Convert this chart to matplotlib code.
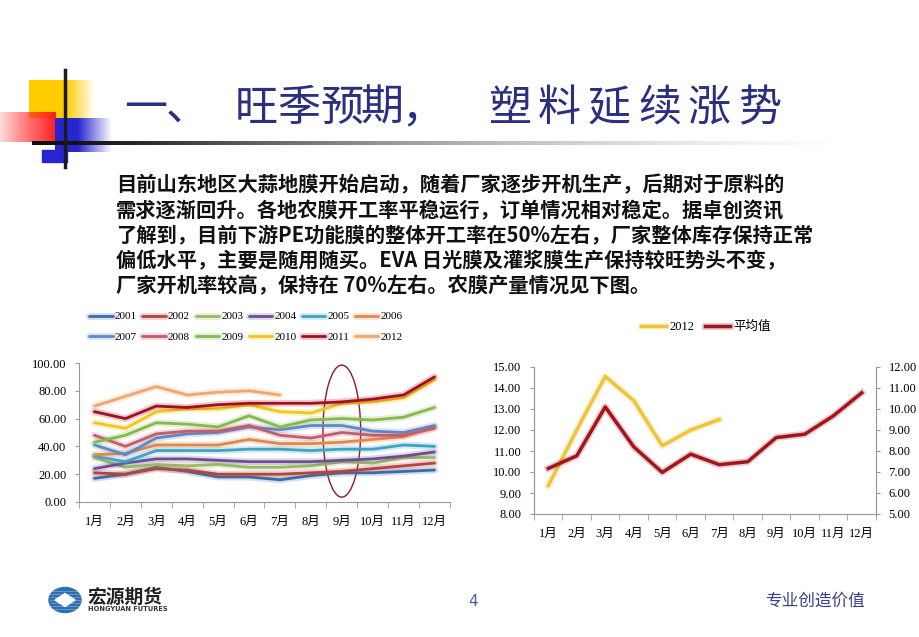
import numpy as np
import matplotlib.pyplot as plt
import matplotlib.patheffects as pe
from matplotlib.patches import Ellipse, Polygon

W, H = 920, 637
CJK = 'Noto Sans CJK SC'
SERIF = ['Liberation Serif', 'Noto Sans CJK SC']

months = [f'{i}月' for i in range(1, 13)]
years = [str(y) for y in range(2001, 2013)]

# left chart: monthly values per year
s2001 = [17, 20, 25, 22, 18, 18, 16, 19, 21, 21, 22, 23]
s2002 = [21, 20, 24, 23, 20, 20, 20, 21, 22, 24, 26, 28]
s2003 = [32, 25, 27, 26, 27, 25, 25, 26, 29, 28, 32, 32]
s2004 = [24, 28, 31, 31, 30, 29, 29, 29, 30, 31, 33, 36]
s2005 = [33, 29, 37, 37, 37, 38, 38, 37, 38, 38, 41, 40]
s2006 = [34, 35, 41, 41, 41, 45, 42, 42, 43, 45, 47, 54]
s2007 = [41, 34, 46, 49, 50, 54, 52, 55, 55, 51, 50, 55]
s2008 = [48, 40, 49, 51, 51, 55, 48, 46, 50, 48, 48, 53]
s2009 = [43, 48, 57, 56, 54, 62, 54, 59, 60, 59, 61, 68]
s2010 = [57, 53, 65, 67, 67, 70, 65, 64, 71, 72, 75, 88]
s2011 = [65, 60, 69, 68, 70, 71, 71, 71, 72, 74, 77, 90]
s2012 = [69, 76, 83, 77, 79, 80, 77]
series = [s2001, s2002, s2003, s2004, s2005, s2006,
          s2007, s2008, s2009, s2010, s2011, s2012]
colors = ['#3A6BA5', '#B4443F', '#9BB865', '#6E4E92', '#3FA3C4', '#E0874A',
          '#5B8AC8', '#C25D6A', '#86B84E', '#F2C51C', '#A01020', '#EFA76A']

# right chart
r2012 = [9.35, 12.0, 14.55, 13.4, 11.25, 12.0, 12.5]
ravg = [7.17, 7.77, 10.1, 8.2, 6.98, 7.85, 7.35, 7.49, 8.64, 8.8, 9.67, 10.77]

body = [
    '目前山东地区大蒜地膜开始启动，随着厂家逐步开机生产，后期对于原料的',
    '需求逐渐回升。各地农膜开工率平稳运行，订单情况相对稳定。据卓创资讯',
    '了解到，目前下游PE功能膜的整体开工率在50%左右，厂家整体库存保持正常',
    '偏低水平，主要是随用随买。EVA 日光膜及灌浆膜生产保持较旺势头不变，',
    '厂家开机率较高，保持在 70%左右。农膜产量情况见下图。',
]
title_chars = list('一、旺季预期，塑料延续涨势')
title_x = [124, 166, 235, 277, 320, 360, 401, 488, 538, 588, 638, 688, 738]


def rect(x0, y0, x1, y1):
    return [x0 / W, 1 - y1 / H, (x1 - x0) / W, (y1 - y0) / H]


def grad_rect(ax, x0, x1, y0, y1, rgb, xs, alphas, z=1, shade=None):
    n = 300
    xx = np.linspace(x0, x1, n)
    img = np.zeros((1, n, 4))
    img[0, :, :3] = rgb
    if shade is not None:
        g = np.interp(xx, shade[0], shade[1])
        img[0, :, :3] = np.stack([g, g, g], axis=1)
    img[0, :, 3] = np.interp(xx, xs, alphas)
    ax.imshow(img, extent=(x0, x1, y1, y0), aspect='auto',
              interpolation='bilinear', zorder=z)


fig = plt.figure(figsize=(W / 100, H / 100), dpi=100)
fig.patch.set_facecolor('white')

bg = fig.add_axes([0, 0, 1, 1])
bg.set_zorder(0)
bg.axis('off')

# decoration top-left
grad_rect(bg, 29, 95, 80, 118, (1.0, 0.8, 0.0), [29, 66, 95], [1, 1, 0], z=1)
grad_rect(bg, 0, 56, 112, 142, (1.0, 0.12, 0.12), [0, 20, 56], [0.15, 0.5, 1], z=2)
grad_rect(bg, 55, 112, 118, 152, (0.15, 0.15, 0.82), [55, 78, 112], [1, 1, 0], z=3)
bg.add_patch(plt.Rectangle((42, 150), 25, 12, color=(0.15, 0.15, 0.82), zorder=3))
grad_rect(bg, 32, 850, 141.5, 145, (0, 0, 0), [32, 420, 850], [1, 0.8, 0], z=4,
          shade=([32, 130, 420, 850], [0.05, 0.1, 0.55, 0.8]))
bg.plot([65, 65], [70, 167], color='#1a1a1a', lw=2.5, zorder=5)

for ch, x in zip(title_chars, title_x):
    bg.text(x, 109, ch, fontsize=31, family=CJK, color='#2B2F7F',
            ha='left', va='center', zorder=6)

for i, line in enumerate(body):
    bg.text(116, 185 + i * 25.3, line, fontsize=14.6, family=CJK,
            fontweight='bold', color='#111111', ha='left', va='center')

# footer
bg.add_patch(Ellipse((65, 600), 32, 25, color='#2E6FB0', zorder=3))
for yy in range(591, 610, 3):
    bg.plot([50, 80], [yy, yy], color='white', lw=0.4, alpha=0.5, zorder=4)
bg.add_patch(Polygon([(55, 600), (65, 593.5), (75, 600), (65, 606.5)],
                     closed=True, color='white', zorder=5))
bg.text(87, 597, '宏源期货', fontsize=13.5, family=CJK, fontweight='bold',
        color='#222222', ha='left', va='center')
bg.text(88, 609, 'HONGYUAN FUTURES', fontsize=4.8, family='DejaVu Sans',
        fontweight='bold', color='#333333', ha='left', va='center')
bg.text(473, 601, '4', fontsize=11, family='DejaVu Sans', color='#4A5A9A',
        ha='center', va='center')
bg.text(765, 601, '专业创造价值', fontsize=12, family=CJK,
        color='#3A3F8A', ha='left', va='center')

bg.set_xlim(0, W)
bg.set_ylim(H, 0)

x = np.arange(12)
glow = lambda c: [pe.Stroke(linewidth=5, foreground=c, alpha=0.22), pe.Normal()]

# left chart
ax = fig.add_axes(rect(79, 363, 450, 502))
ax.set_zorder(2)
ax.patch.set_alpha(0)
handles = []
for ys, c, lab in zip(series, colors, years):
    h, = ax.plot(x[:len(ys)], ys, color=c, lw=2, label=lab,
                 path_effects=glow(c), solid_capstyle='round')
    handles.append(h)
ax.add_patch(Ellipse((8.0, 51), 1.22, 95, fill=False, edgecolor='#8B1A2A', lw=1))
ax.set_xlim(-0.5, 11.5)
ax.set_ylim(0, 100)
ax.set_yticks(np.arange(0, 101, 20))
ax.set_yticklabels([f'{v:.2f}' for v in np.arange(0, 101, 20)])
ax.set_xticks(x)
ax.set_xticklabels(months)
ax.set_xticks(np.arange(-0.5, 12, 1), minor=True)
ax.tick_params(axis='x', which='major', length=0, pad=10)
ax.tick_params(axis='x', which='minor', length=4, color='#999999')
ax.tick_params(axis='y', length=3, color='#999999', pad=6)
for sp in ['top', 'right']:
    ax.spines[sp].set_visible(False)
for sp in ['left', 'bottom']:
    ax.spines[sp].set_color('#999999')
for lb in ax.get_xticklabels() + ax.get_yticklabels():
    lb.set_family(SERIF)
    lb.set_fontsize(9)

order = [i + j * 6 for i in range(6) for j in range(2)]
fig.legend([handles[k] for k in order], [years[k] for k in order], ncol=6,
           loc='center', bbox_to_anchor=(246 / W, 1 - 327 / H), frameon=False,
           prop={'family': SERIF, 'size': 8}, handlelength=2.1,
           handletextpad=0.2, columnspacing=0.5, labelspacing=1.0)

# right chart
ax2 = fig.add_axes(rect(534, 367, 876, 514))
ax2.set_zorder(2)
ax2.patch.set_alpha(0)
ax3 = ax2.twinx()
c12, cav = '#EFC43A', '#A0151E'
h1, = ax2.plot(x[:len(r2012)], r2012, color=c12, lw=2.5, path_effects=glow(c12))
h2, = ax3.plot(x, ravg, color=cav, lw=2.5, path_effects=glow(cav))
ax2.set_xlim(-0.5, 11.5)
ax2.set_ylim(8, 15)
ax3.set_ylim(5, 12)
ax2.set_yticks(np.arange(8, 15.1, 1))
ax2.set_yticklabels([f'{v:.2f}' for v in np.arange(8, 15.1, 1)])
ax3.set_yticks(np.arange(5, 12.1, 1))
ax3.set_yticklabels([f'{v:.2f}' for v in np.arange(5, 12.1, 1)])
ax2.set_xticks(x)
ax2.set_xticklabels(months)
ax2.set_xticks(np.arange(-0.5, 12, 1), minor=True)
ax2.tick_params(axis='x', which='major', length=0, pad=10)
ax2.tick_params(axis='x', which='minor', length=4, color='#999999')
ax2.tick_params(axis='y', length=3, color='#999999', pad=6)
ax3.tick_params(axis='y', length=3, color='#999999', pad=6)
for a in (ax2, ax3):
    a.spines['top'].set_visible(False)
    for sp in ['left', 'right', 'bottom']:
        a.spines[sp].set_color('#999999')
    for lb in a.get_xticklabels() + a.get_yticklabels():
        lb.set_family(SERIF)
        lb.set_fontsize(9)

fig.legend([h1, h2], ['2012', '平均值'], ncol=2, loc='center',
           bbox_to_anchor=(706 / W, 1 - 327 / H), frameon=False,
           prop={'family': SERIF, 'size': 9}, handlelength=2.0,
           handletextpad=0.3, columnspacing=0.8)

fig.savefig('out.png', dpi=100, facecolor='white')
